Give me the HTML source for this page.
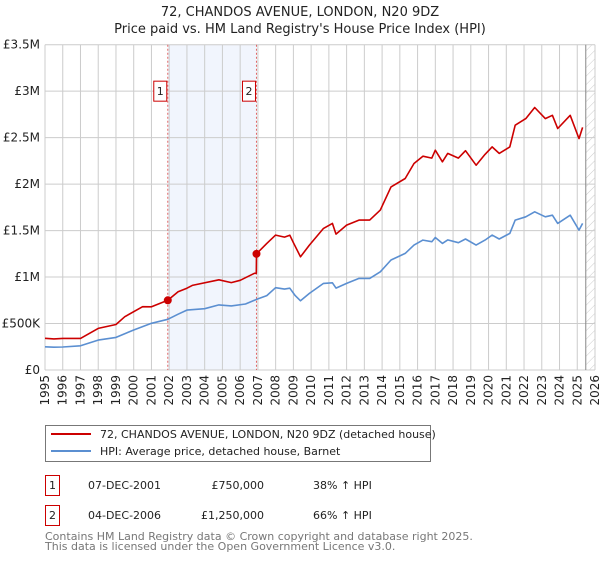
<!DOCTYPE html>
<html><head><meta charset="utf-8">
<style>
body{margin:0;background:#fff;font-family:"DejaVu Sans","Liberation Sans",sans-serif;}
svg text{font-family:"DejaVu Sans","Liberation Sans",sans-serif;}
</style></head>
<body>
<svg id="chart" width="600" height="560" xmlns="http://www.w3.org/2000/svg">
<defs>
<pattern id="hatch" width="6" height="6" patternUnits="userSpaceOnUse" patternTransform="rotate(45)">
<line x1="0" y1="0" x2="0" y2="6" stroke="#ccc" stroke-width="1"/>
</pattern>
</defs>
<text x="300" y="16" text-anchor="middle" font-size="13" fill="#222">72, CHANDOS AVENUE, LONDON, N20 9DZ</text>
<text x="300" y="33" text-anchor="middle" font-size="13" fill="#222">Price paid vs. HM Land Registry's House Price Index (HPI)</text>
<g id="grid"></g>
<g id="marks"></g>
<g id="axes"></g>
<g>
<rect x="45.5" y="425.5" width="385" height="36" fill="#fff" stroke="#777"/>
<line x1="51" y1="434" x2="91" y2="434" stroke="#cc0000" stroke-width="2"/>
<text x="100" y="438" font-size="11" fill="#222">72, CHANDOS AVENUE, LONDON, N20 9DZ (detached house)</text>
<line x1="51" y1="451" x2="91" y2="451" stroke="#5b8fd1" stroke-width="2"/>
<text x="100" y="455" font-size="11" fill="#222">HPI: Average price, detached house, Barnet</text>
</g>
<g>
<rect x="45.5" y="475.5" width="14" height="20" fill="#fff" stroke="#cc0000"/>
<text x="52.5" y="489" text-anchor="middle" font-size="11" fill="#222">1</text>
<text x="88" y="489" font-size="11" fill="#222">07-DEC-2001</text>
<text x="264" y="489" text-anchor="end" font-size="11" fill="#222">£750,000</text>
<text x="313" y="489" font-size="11" fill="#222">38% ↑ HPI</text>
<rect x="45.5" y="505.5" width="14" height="20" fill="#fff" stroke="#cc0000"/>
<text x="52.5" y="519" text-anchor="middle" font-size="11" fill="#222">2</text>
<text x="88" y="519" font-size="11" fill="#222">04-DEC-2006</text>
<text x="264" y="519" text-anchor="end" font-size="11" fill="#222">£1,250,000</text>
<text x="313" y="519" font-size="11" fill="#222">66% ↑ HPI</text>
</g>
<text x="45" y="540" font-size="11" fill="#777">Contains HM Land Registry data © Crown copyright and database right 2025.</text>
<text x="45" y="550" font-size="11" fill="#777">This data is licensed under the Open Government Licence v3.0.</text>
</svg>
<script>
const yTicks=[0,500000,1000000,1500000,2000000,2500000,3000000,3500000];
const yTickLabels=["£0","£500K","£1M","£1.5M","£2M","£2.5M","£3M","£3.5M"];
const xYears=[1995,1996,1997,1998,1999,2000,2001,2002,2003,2004,2005,2006,2007,2008,2009,2010,2011,2012,2013,2014,2015,2016,2017,2018,2019,2020,2021,2022,2023,2024,2025,2026];
const hpiYears=[1995,1995.5,1996,1997,1998,1999,2000,2001,2001.92,2002.5,2003,2004,2004.8,2005.5,2006.3,2006.92,2007.5,2008,2008.5,2008.8,2009.1,2009.4,2009.9,2010.7,2011.2,2011.4,2012.0,2012.7,2013.3,2013.9,2014.5,2015.3,2015.8,2016.3,2016.8,2017.0,2017.4,2017.7,2018.3,2018.7,2019.3,2019.8,2020.2,2020.6,2021.2,2021.5,2022.1,2022.6,2023.2,2023.6,2023.9,2024.6,2025.1,2025.3];
const hpiValues=[250000,245000,248000,260000,322000,351000,430000,502000,545000,600000,645000,660000,700000,690000,710000,760000,800000,885000,870000,880000,800000,745000,824000,932000,938000,881000,932000,986000,986000,1057000,1183000,1254000,1344000,1398000,1380000,1426000,1362000,1400000,1370000,1410000,1344000,1398000,1451000,1410000,1470000,1613000,1648000,1702000,1648000,1666000,1577000,1666000,1505000,1577000];
const propYears=[1995,1995.5,1996,1997,1998,1999,1999.5,2000.5,2001,2001.92,2002.5,2003,2003.3,2004.8,2005.5,2006,2006.8,2006.91,2006.92,2007.5,2008,2008.5,2008.8,2009.0,2009.4,2009.9,2010.7,2011.2,2011.4,2012.0,2012.7,2013.3,2013.9,2014.5,2015.3,2015.8,2016.3,2016.8,2017.0,2017.4,2017.7,2018.3,2018.7,2019.3,2019.8,2020.2,2020.6,2021.2,2021.5,2022.1,2022.6,2023.2,2023.6,2023.9,2024.6,2025.1,2025.3];
const propValues=[341000,335000,340000,340000,448000,490000,573000,681000,680000,750000,842000,880000,910000,970000,940000,965000,1040000,1040000,1250000,1362000,1451000,1430000,1450000,1370000,1218000,1344000,1523000,1577000,1462000,1559000,1613000,1613000,1720000,1970000,2060000,2222000,2300000,2280000,2365000,2240000,2330000,2280000,2360000,2204000,2320000,2400000,2330000,2400000,2634000,2705000,2824000,2705000,2740000,2598000,2740000,2490000,2610000];
const saleYears=[2001.92,2006.92];
const saleValues=[750000,1250000];
const saleLabels=["1","2"];

const L=45,R=595,T=44.7,B=370,X0=1995,X1=2026,YMAX=3500000;
const xs=y=>L+(y-X0)/(X1-X0)*(R-L);
const ys=v=>B-v/YMAX*(B-T);
const NS="http://www.w3.org/2000/svg";
function mk(tag,attrs,parent){const e=document.createElementNS(NS,tag);for(const k in attrs)e.setAttribute(k,attrs[k]);parent.appendChild(e);return e;}
const grid=document.getElementById('grid'),marks=document.getElementById('marks'),axes=document.getElementById('axes');

let sh=mk('rect',{x:xs(saleYears[0]),y:T,width:xs(saleYears[1])-xs(saleYears[0]),height:B-T,fill:'#eef3fd',opacity:0.8},grid);


const endX=xs(2025.48);
let ht=mk('rect',{x:endX,y:T,width:R-endX,height:B-T,fill:'url(#hatch)'},grid);



yTicks.forEach((v,i)=>{
  let g=mk('line',{x1:L,x2:R,y1:ys(v),y2:ys(v),stroke:'#cccccc','stroke-width':1},grid);
  
  
  let t=mk('text',{x:40,y:ys(v)+4,'text-anchor':'end','font-size':12,fill:'#222'},axes);
  t.textContent=yTickLabels[i];
  
  
});
xYears.forEach(yr=>{
  let g=mk('line',{x1:xs(yr),x2:xs(yr),y1:T,y2:B,stroke:'#cccccc','stroke-width':1},grid);
  
  
  const x=xs(yr)+4;
  let t=mk('text',{x:x,y:375,'text-anchor':'end','font-size':12,fill:'#222',transform:`rotate(-90 ${x} 375)`},axes);
  t.textContent=yr;
  
  
});
let vl=mk('line',{x1:endX,x2:endX,y1:T,y2:B,stroke:'#888','stroke-width':1},grid);



saleYears.forEach((yr,i)=>{
  let l=mk('line',{x1:xs(yr),x2:xs(yr),y1:T,y2:B,stroke:'#e06666','stroke-width':1,'stroke-dasharray':'2,2'},marks);
  
  
});

function path(xa,va,color,name){
  const d=xa.map((yr,i)=>(i?'L':'M')+xs(yr).toFixed(1)+','+ys(va[i]).toFixed(1)).join(' ');
  let p=mk('path',{d:d,fill:'none',stroke:color,'stroke-width':1.6,'stroke-linejoin':'round'},marks);
  
  
}
path(hpiYears,hpiValues,'#5b8fd1','hpi-line');
path(propYears,propValues,'#cc0000','property-price-line');

saleYears.forEach((yr,i)=>{
  let c=mk('circle',{cx:xs(yr),cy:ys(saleValues[i]),r:4,fill:'#cc0000'},marks);
  
  
  const bx=xs(yr)-14, by=ys(3000000)-10;
  let b=mk('rect',{x:bx,y:by,width:13,height:20,fill:'#fff',stroke:'#cc0000'},marks);
  
  
  let t=mk('text',{x:bx+6.5,y:by+14,'text-anchor':'middle','font-size':11,fill:'#222'},marks);
  t.textContent=saleLabels[i];
  
  
});
</script>
</body></html>
